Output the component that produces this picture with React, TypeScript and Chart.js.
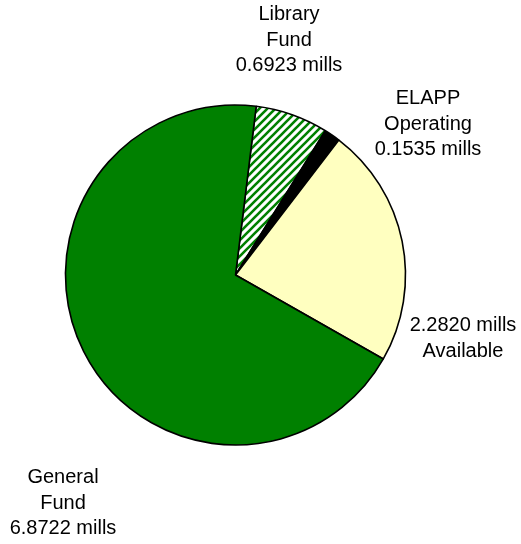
import React, { useEffect, useRef } from "react";
import { Chart, registerables } from "chart.js";

Chart.register(...registerables);

const categories = ["Library Fund", "ELAPP Operating", "Available", "General Fund"];
const values = [0.6923, 0.1535, 2.282, 6.8722];
const labelLines = [
  ["Library", "Fund", "0.6923 mills"],
  ["ELAPP", "Operating", "0.1535 mills"],
  ["2.2820 mills", "Available"],
  ["General", "Fund", "6.8722 mills"],
];
// label block centre offsets from the pie centre
const labelOffsets = [
  [53.5, -235],
  [192.5, -151],
  [227.5, 63.5],
  [-172.5, 228],
];

function makeHatch(): CanvasPattern | string {
  const c = document.createElement("canvas");
  c.width = 8;
  c.height = 8;
  const g = c.getContext("2d");
  if (!g) return "#008000";
  g.fillStyle = "#ffffff";
  g.fillRect(0, 0, 8, 8);
  g.strokeStyle = "#008000";
  g.lineWidth = 2.6;
  g.beginPath();
  g.moveTo(-2, 10);
  g.lineTo(10, -2);
  g.moveTo(-6, 6);
  g.lineTo(6, -6);
  g.moveTo(2, 14);
  g.lineTo(14, 2);
  g.stroke();
  const p = g.createPattern(c, "repeat");
  return p || "#008000";
}

const labelPlugin = {
  id: "sliceLabels",
  afterDraw(chart: any) {
    const meta = chart.getDatasetMeta(0);
    const ctx = chart.ctx;
    if (!meta.data.length) return;
    const cx = meta.data[0].x;
    const cy = meta.data[0].y;
    ctx.save();
    ctx.font = "20px 'Liberation Sans', Arial, sans-serif";
    ctx.fillStyle = "#000000";
    ctx.textAlign = "center";
    ctx.textBaseline = "middle";
    const lh = 25.7;
    labelLines.forEach((lines, i) => {
      const [dx, dy] = labelOffsets[i];
      const n = lines.length;
      lines.forEach((t, j) => {
        ctx.fillText(t, cx + dx, cy + dy + (j - (n - 1) / 2) * lh);
      });
    });
    ctx.restore();
  },
};

export default function App() {
  const ref = useRef<HTMLCanvasElement>(null);
  useEffect(() => {
    if (!ref.current) return;
    const chart = new Chart(ref.current, {
      type: "pie",
      data: {
        labels: categories,
        datasets: [
          {
            data: values,
            backgroundColor: [makeHatch(), "#000000", "#FFFFC0", "#008000"],
            borderColor: "#000000",
            borderWidth: 1.6,
          },
        ],
      },
      options: {
        responsive: false,
        animation: false,
        rotation: 7,
        radius: 170,
        layout: { padding: { left: 0, right: 50, top: 6, bottom: 0 } },
        plugins: {
          legend: { display: false },
          tooltip: { enabled: false },
        },
      },
      plugins: [labelPlugin],
    });
    return () => chart.destroy();
  }, []);
  return (
    <div style={{ position: "absolute", left: 0, top: 0, width: 521, height: 544, background: "#fff" }}>
      <canvas ref={ref} width={521} height={544} style={{ width: 521, height: 544 }} />
    </div>
  );
}
